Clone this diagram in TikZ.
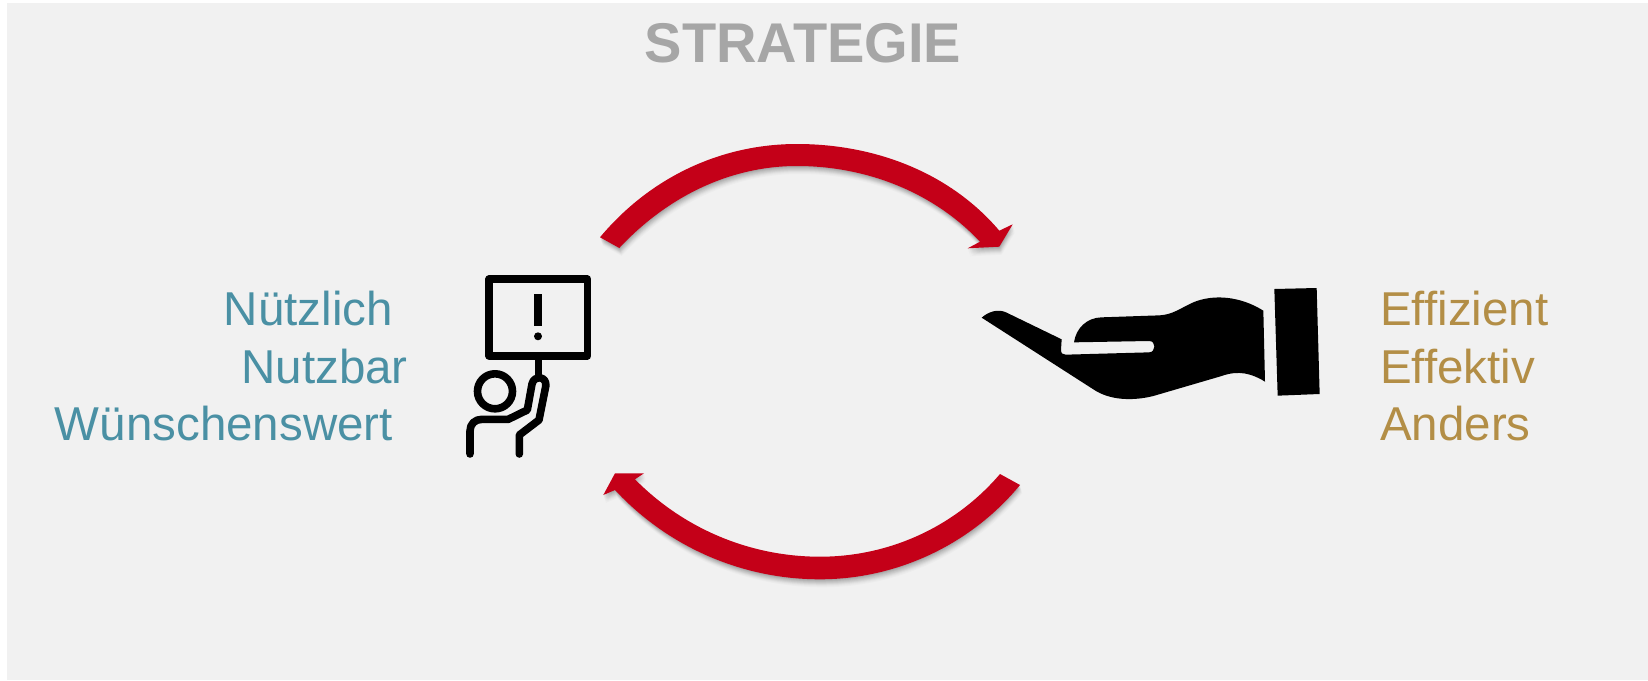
\documentclass[tikz,border=0pt]{standalone}
\usepackage{fontspec}
\setmainfont{Liberation Sans}
\definecolor{panel}{HTML}{F1F1F1}
\definecolor{arrowred}{HTML}{C40018}
\definecolor{teal1}{HTML}{4A90A4}
\definecolor{gold1}{HTML}{B38E46}
\definecolor{titlegray}{HTML}{A6A6A6}
\newcommand{\toparrow}{(600,237.3) .. controls (649.5,178) and (720,144) .. (797,144)
 .. controls (874,144) and (949.5,172) .. (999.3,230.7) -- (1012.7,224.3) -- (999.3,246.7) -- (967.7,248.3) -- (980,241.7)
 .. controls (933,191.7) and (865.6,166) .. (797,166)
 .. controls (728.4,166) and (666,198) .. (619.3,248) -- cycle}
\newcommand{\botarrow}{(1000,474) .. controls (955,526.7) and (889.4,556.7) .. (820,556.7)
 .. controls (750.4,556.7) and (684,529) .. (635,479.3) -- (644,473.3) -- (615,473.3) -- (603.3,495) -- (615,490)
 .. controls (668,547) and (742,579.3) .. (820,579.3)
 .. controls (897,579.3) and (971,544.4) .. (1020,485) -- cycle}
\tikzset{
  lab/.style={font=\fontsize{47.5}{47.5}\selectfont,inner sep=0pt,anchor=base},
  icon/.style={line width=7.6pt,line cap=round,line join=round,draw=black},
  arrowfill/.style={fill=arrowred,draw=none},
}
\begin{document}
\begin{tikzpicture}[x=1pt,y=-1pt]
\useasboundingbox (0,0) rectangle (1648,680);
\fill[white] (0,0) rectangle (1648,680);
\fill[panel] (7,3) rectangle (1648,680);
\node[font=\bfseries\fontsize{56}{56}\selectfont,text=titlegray,inner sep=0pt,anchor=base] (title) at (803,62) {STRATEGIE};
\node[lab,text=teal1,anchor=base east] (n1) at (393,325) {Nützlich};
\node[lab,text=teal1,anchor=base east] (n2) at (408,383) {Nutzbar};
\node[lab,text=teal1,anchor=base east] (n3) at (393,440) {Wünschenswert};
\node[lab,text=gold1,anchor=base west] (e1) at (1380,325) {Effizient};
\node[lab,text=gold1,anchor=base west] (e2) at (1380,383) {Effektiv};
\node[lab,text=gold1,anchor=base west] (e3) at (1380,440) {Anders};
% shadows
\foreach \d/\o in {1/0.06,2/0.06,3/0.05,4/0.05,5/0.04,6/0.03,7/0.02,8/0.02}{
  \fill[black,opacity=\o,yshift=-\d pt,xshift=0.3*\d pt] \toparrow;
  \fill[black,opacity=\o,yshift=-\d pt,xshift=0.3*\d pt] \botarrow;
}
\fill[arrowfill] \toparrow;
\fill[arrowfill] \botarrow;
% person
\draw[icon] (489.2,279.2) rectangle (587.5,355.7);
\fill (534.3,294.3) rectangle (542,326);
\fill (538,336.3) circle (4);
\draw[line width=7pt] (538,355) -- (538,377);
\draw[icon] (495,391.3) circle (17.5);
\draw[icon] (470,454) -- (470,431) .. controls (470,424) and (475,419.3) .. (482,419.3)
 -- (508.3,419.3) -- (527.3,410) -- (532,384) .. controls (534,375) and (547,376) .. (545.8,386)
 -- (539,420) -- (519.3,435) -- (519.3,454);
% hand
\begin{scope}[shift={(970,270)},x=0.33333pt,y=-0.33333pt]
\fill (35,143) .. controls (55,125) and (85,115) .. (110,128) -- (275,208) -- (273,240)
 .. controls (273,250) and (278,254) .. (287,254) -- (538,247)
 .. controls (558,246) and (558,213) .. (538,213) -- (312,217)
 .. controls (318,175) and (350,143) .. (395,142) -- (570,136)
 .. controls (610,133) and (630,115) .. (670,97)
 .. controls (730,72) and (810,78) .. (880,122) -- (885,335)
 .. controls (845,310) and (805,300) .. (755,318) -- (550,378)
 .. controls (490,393) and (420,392) .. (370,358) -- cycle;
\fill (913,57) -- (1040,54) -- (1049,372) -- (923,377) -- cycle;
\end{scope}
\end{tikzpicture}
\end{document}
